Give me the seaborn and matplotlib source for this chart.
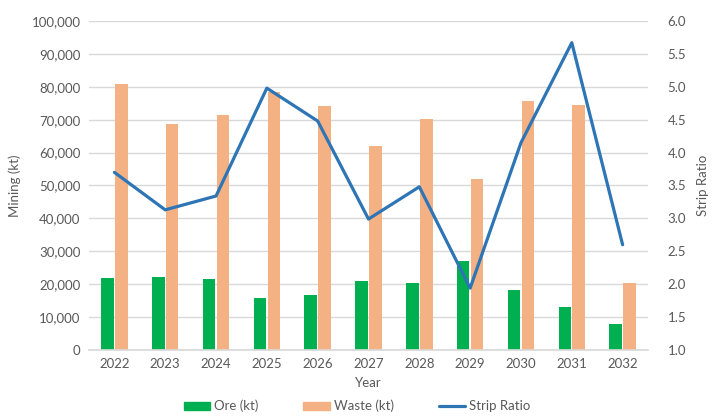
import numpy as np
import pandas as pd
import matplotlib
matplotlib.use("Agg")
import matplotlib.pyplot as plt
import seaborn as sns
from matplotlib.ticker import FuncFormatter, MultipleLocator
from matplotlib.patches import Patch
from matplotlib.lines import Line2D

years = ["2022", "2023", "2024", "2025", "2026", "2027", "2028", "2029", "2030", "2031", "2032"]
ore = [21900, 22200, 21600, 15900, 16800, 21000, 20400, 27000, 18300, 13200, 8000]
waste = [80900, 68700, 71400, 78400, 74200, 62100, 70200, 52000, 75700, 74500, 20400]
strip_ratio = [3.70, 3.13, 3.34, 4.98, 4.48, 2.99, 3.48, 1.94, 4.15, 5.67, 2.60]

series_names = ["Ore (kt)", "Waste (kt)"]
colors = {"Ore (kt)": "#00B050", "Waste (kt)": "#F4B183"}
line_color = "#2E75B6"
text_color = "#595959"
grid_color = "#D9D9D9"

sns.set_theme(style="white")
plt.rcParams["font.family"] = ["Lato", "DejaVu Sans"]

df = pd.DataFrame({
    "Year": years * 2,
    "Mining": ore + waste,
    "Series": [series_names[0]] * len(years) + [series_names[1]] * len(years),
})

fig = plt.figure(figsize=(7.14, 4.16), dpi=100)
ax = fig.add_axes([0.1246, 0.1587, 0.7830, 0.7908])

sns.barplot(data=df, x="Year", y="Mining", hue="Series", palette=colors,
            width=0.55, gap=0.1, ax=ax, legend=False, saturation=1, linewidth=0)

ax.set_ylim(0, 100000)
ax.yaxis.set_major_locator(MultipleLocator(10000))
ax.yaxis.set_major_formatter(FuncFormatter(lambda v, p: f"{int(v):,}"))
ax.set_xlim(-0.5, len(years) - 0.5)
ax.grid(axis="y", color=grid_color, linewidth=1)
ax.set_axisbelow(True)
for s in ["top", "right", "left"]:
    ax.spines[s].set_visible(False)
ax.spines["bottom"].set_color(grid_color)
ax.tick_params(axis="both", colors=text_color, labelsize=9.5, length=0, pad=6)
ax.set_ylabel("Mining (kt)", color=text_color, fontsize=9.5, labelpad=8)
ax.set_xlabel("Year", color=text_color, fontsize=9.5, labelpad=5)

ax2 = ax.twinx()
sns.lineplot(x=np.arange(len(years)), y=strip_ratio, ax=ax2, color=line_color,
             linewidth=2.3, legend=False)
ax2.set_ylim(1.0, 6.0)
ax2.yaxis.set_major_locator(MultipleLocator(0.5))
ax2.yaxis.set_major_formatter(FuncFormatter(lambda v, p: f"{v:.1f}"))
for s in ["top", "right", "left", "bottom"]:
    ax2.spines[s].set_visible(False)
ax2.tick_params(axis="y", colors=text_color, labelsize=9.5, length=0, pad=14)
ax2.set_ylabel("Strip Ratio", color=text_color, fontsize=9.5, labelpad=8)
ax2.grid(False)

handles = [Patch(color=colors[series_names[0]]), Patch(color=colors[series_names[1]]),
           Line2D([0], [0], color=line_color, linewidth=2.3)]
fig.legend(handles, series_names + ["Strip Ratio"], loc="lower center",
           bbox_to_anchor=(0.5, -0.02), ncol=3, frameon=False, fontsize=9.5,
           labelcolor=text_color, handlelength=2.0, handleheight=0.6,
           columnspacing=3.4, handletextpad=0.3)

fig.savefig("out.png", dpi=100)
